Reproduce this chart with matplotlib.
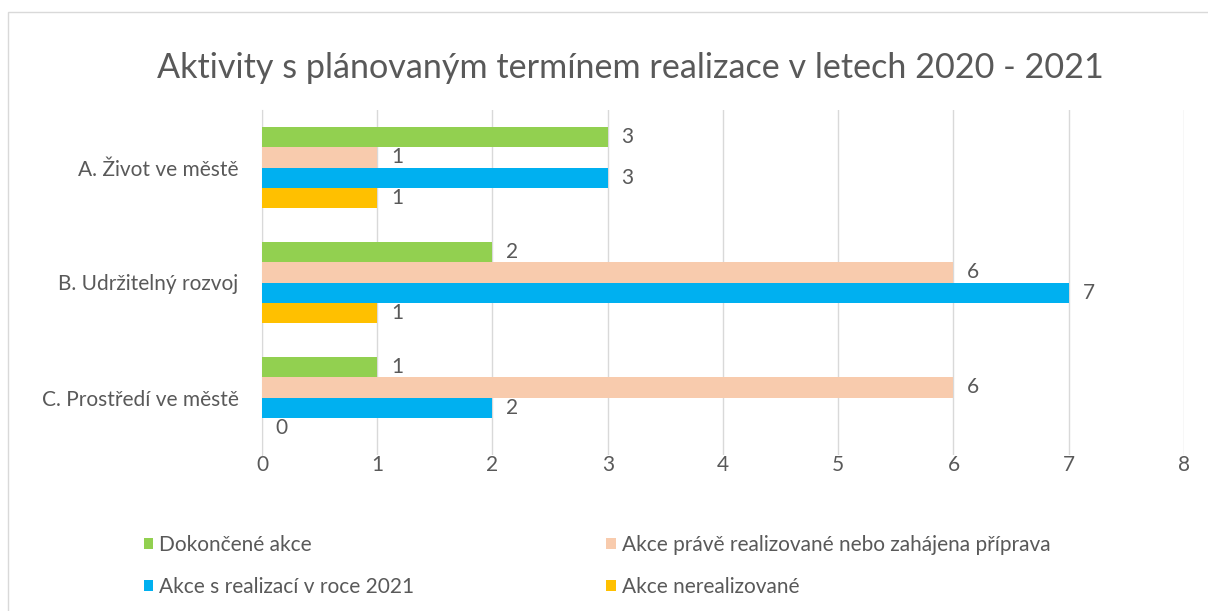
import matplotlib.pyplot as plt
from matplotlib.patches import Rectangle
import numpy as np

categories = ['A. Život ve městě', 'B. Udržitelný rozvoj', 'C. Prostředí ve městě']
series_names = ['Dokončené akce', 'Akce právě realizované nebo zahájena příprava',
                'Akce s realizací v roce 2021', 'Akce nerealizované']
dokoncene = [3, 2, 1]
realizovane = [1, 6, 6]
v_roce_2021 = [3, 7, 2]
nerealizovane = [1, 1, 0]
x_ticks = [0, 1, 2, 3, 4, 5, 6, 7, 8]

colors = ['#92D050', '#F8CBAD', '#00B0F0', '#FFC000']
text_col = '#595959'
plt.rcParams['font.family'] = ['Lato', 'DejaVu Sans']

fig = plt.figure(figsize=(12.08, 6.11), dpi=100)
ax = fig.add_axes([262 / 1208, 1 - 455 / 611, 922 / 1208, 345 / 611])

# chart frame
fig.patches.append(Rectangle((8 / 1208, -0.1), 1.2, 1 - 12 / 611 + 0.1, transform=fig.transFigure,
                             fill=False, edgecolor='#D9D9D9', linewidth=1))

y = np.arange(len(categories))
h = 0.174
all_series = [dokoncene, realizovane, v_roce_2021, nerealizovane]
bars = []
for i, (vals, name, c) in enumerate(zip(all_series, series_names, colors)):
    pos = y + (i - 1.5) * h
    bars.append(ax.barh(pos, vals, height=h, color=c, label=name, zorder=3))
    for p, v in zip(pos, vals):
        ax.text(v + 0.12, p, str(v), va='center', ha='left', fontsize=15, color=text_col)

ax.set_xlim(0, 8)
ax.set_ylim(2.5, -0.5)
ax.set_xticks(x_ticks)
ax.set_yticks(y)
ax.set_yticklabels(categories)
ax.grid(axis='x', color='#D9D9D9', linewidth=1, zorder=0)
for s in ['top', 'right', 'bottom']:
    ax.spines[s].set_visible(False)
ax.spines['left'].set_color('#D9D9D9')
ax.tick_params(axis='both', length=0, labelsize=15, colors=text_col)
ax.tick_params(axis='y', pad=17)
ax.tick_params(axis='x', pad=0)

fig.text(0.522, 1 - 68 / 611, 'Aktivity s plánovaným termínem realizace v letech 2020 - 2021',
         ha='center', va='center', fontsize=24.6, color=text_col)

# row-major legend order: column 1 = green, blue; column 2 = peach, yellow
order = [0, 2, 1, 3]
fig.legend([bars[k] for k in order], [series_names[k] for k in order],
           loc='upper left', bbox_to_anchor=(125 / 1208, 1 - 516 / 611), ncol=2, frameon=False,
           fontsize=15, handlelength=0.45, handleheight=0.45, handletextpad=0.3,
           columnspacing=9.2, labelspacing=1.05, labelcolor=text_col)

fig.savefig('out.png', dpi=100)
